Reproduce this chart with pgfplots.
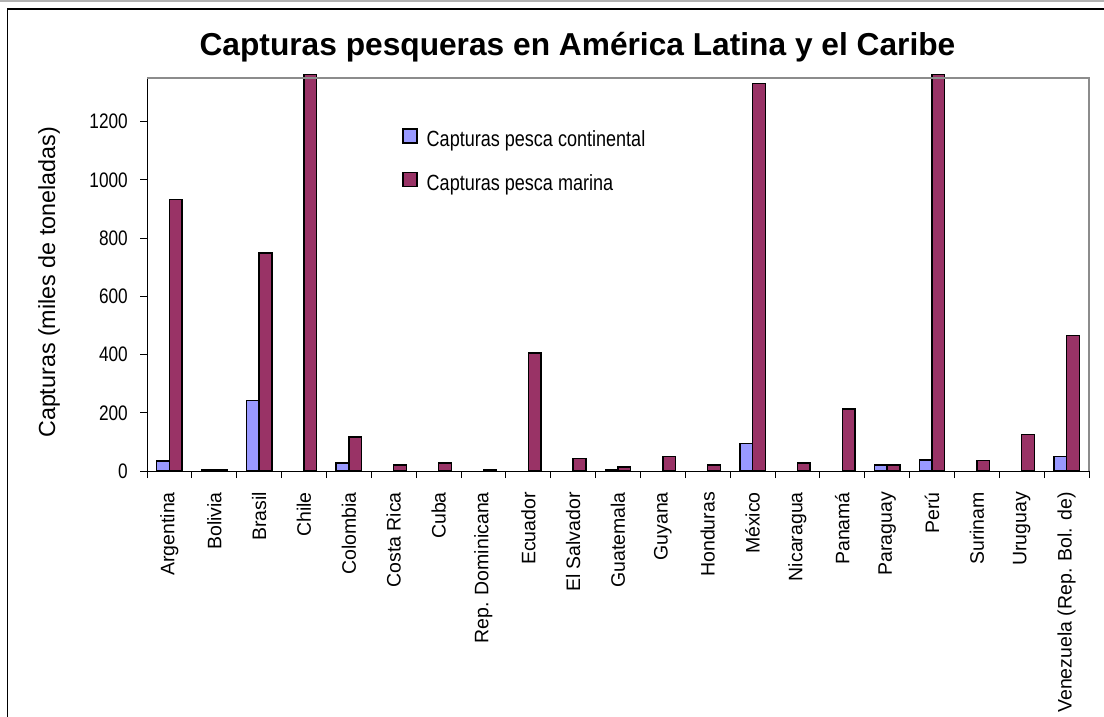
\documentclass[border=0pt]{standalone}
\usepackage{fontspec}
\setmainfont{Liberation Sans}
\newfontfamily\narrowfont{Liberation Sans}[FakeStretch=0.82]
\usepackage{pgfplots}
\pgfplotsset{compat=1.18}
\definecolor{cont}{HTML}{9999FF}
\definecolor{mar}{HTML}{993366}

\pgfplotstableread{
idx cont mar
0 34 933
1 6 4
2 243 748
3 nan 1362
4 28 116
5 nan 20
6 nan 28
7 nan 5
8 nan 405
9 nan 43
10 3 14
11 nan 49
12 nan 21
13 95 1331
14 nan 27
15 nan 213
16 21 21
17 38 1362
18 nan 36
19 nan 125
20 50 466
}\datatable

\begin{document}
\begin{tikzpicture}
\useasboundingbox (0bp,0bp) rectangle (1104bp,717bp);
\draw[black!30, line width=1.5bp] (0bp,716.2bp) -- (1104bp,716.2bp);
\draw[black, line width=1.5bp] (7.5bp,0bp) -- (7.5bp,708bp) -- (1104bp,708bp);
\node[anchor=base, inner sep=0pt, font=\bfseries\fontsize{31.7bp}{36bp}\selectfont] at (577.5bp,661bp) {Capturas pesqueras en América Latina y el Caribe};
\begin{axis}[
  at={(147bp,246bp)}, anchor=south west,
  scale only axis, width=942bp, height=393bp,
  ybar=0pt, bar width=12.7bp,
  xmin=-0.5, xmax=20.5, ymin=0, ymax=1350,
  clip=false,
  axis x line*=bottom, axis y line*=left,
  x axis line style={-, black, line width=1bp},
  y axis line style={-, black, line width=1bp},
  tick align=outside,
  ytick={0,200,...,1200},
  xtick={0,...,20},
  xticklabels={Argentina,Bolivia,Brasil,Chile,Colombia,Costa Rica,Cuba,Rep. Dominicana,Ecuador,El Salvador,Guatemala,Guyana,Honduras,México,Nicaragua,Panamá,Paraguay,Perú,Surinam,Uruguay,Venezuela (Rep. Bol. de)},
  minor xtick={-0.5,0.5,...,20.5},
  major x tick style={draw=none},
  minor x tick style={black, line width=0.8bp},
  major y tick style={black, line width=0.8bp},
  major tick length=7bp, minor tick length=7bp,
  xticklabel style={rotate=90, anchor=east, inner sep=0pt, font=\fontsize{19.5bp}{20bp}\selectfont},
  xticklabel shift=14bp,
  yticklabel style={anchor=east, inner sep=0pt, font=\narrowfont\fontsize{21bp}{21bp}\selectfont},
  yticklabel shift=12bp,
  /pgf/number format/assume math mode=true,
  /pgf/number format/1000 sep={},
  ylabel={Capturas (miles de toneladas)},
  every axis y label/.style={at={(rel axis cs:-0.104,0.48)}, rotate=90, anchor=center, inner sep=0pt, font=\fontsize{23.3bp}{24bp}\selectfont},
  legend style={at={(0.2707,0.8728)}, anchor=north west, draw=none, fill=none, inner sep=0pt,
    row sep=20bp, column sep=9bp,
    font=\narrowfont\fontsize{22bp}{22bp}\selectfont,
    nodes={inner sep=0pt, text height=16bp, text depth=5bp}},
  legend cell align=left,
  legend image code/.code={\draw[#1, draw=black, line width=1.5bp] (0bp,-1.5bp) rectangle (14bp,12.5bp);},
  after end axis/.code={
    \draw[black!45, line width=1.5bp] (rel axis cs:0,1) -- (rel axis cs:1,1) -- (rel axis cs:1,0);
  },
]
\addplot[fill=cont, draw=black, line width=1.5bp] table[x=idx, y=cont] {\datatable};
\addplot[fill=mar, draw=black, line width=1.5bp] table[x=idx, y=mar] {\datatable};
\legend{Capturas pesca continental, Capturas pesca marina}
\end{axis}
\end{tikzpicture}
\end{document}
